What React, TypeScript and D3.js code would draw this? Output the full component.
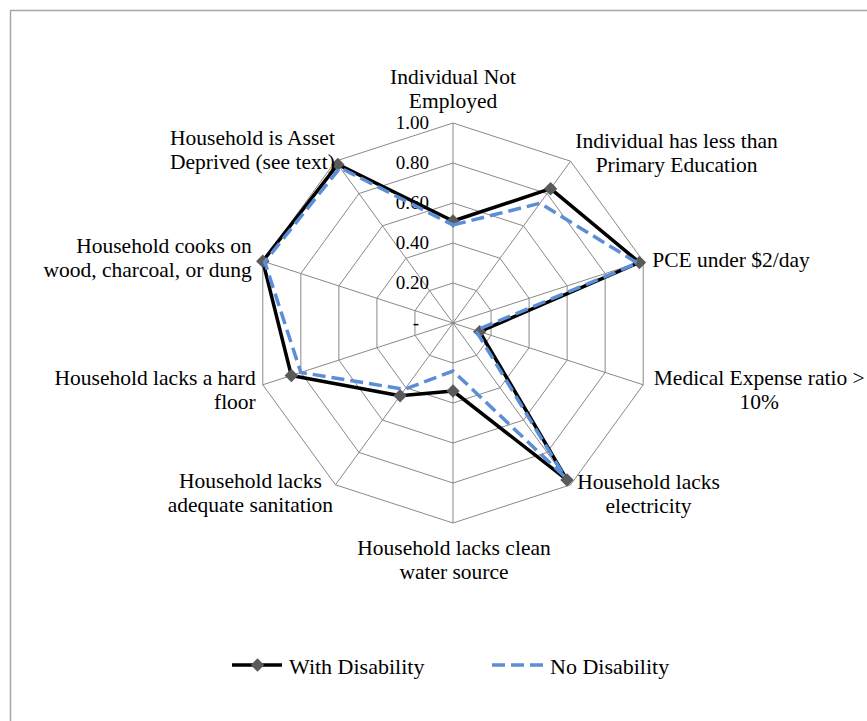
import React from 'react';
import * as d3 from 'd3';

// categories, clockwise from the top
const categories: string[][] = [
  ['Individual Not', 'Employed'],
  ['Individual has less than', 'Primary Education'],
  ['PCE under $2/day'],
  ['Medical Expense ratio >', '10%'],
  ['Household lacks', 'electricity'],
  ['Household lacks clean', 'water source'],
  ['Household lacks', 'adequate sanitation'],
  ['Household lacks a hard', 'floor'],
  ['Household cooks on', 'wood, charcoal, or dung'],
  ['Household is Asset', 'Deprived (see text)'],
];

const withDisability = [0.51, 0.83, 0.98, 0.14, 0.97, 0.34, 0.45, 0.85, 1.0, 0.98];
const noDisability = [0.49, 0.74, 0.97, 0.12, 0.95, 0.24, 0.41, 0.8, 0.99, 0.96];

const tickValues = [0, 0.2, 0.4, 0.6, 0.8, 1.0];
const tickLabels = ['-', '0.20', '0.40', '0.60', '0.80', '1.00'];

// label placement relative to each axis end (layout only)
const labelLayout: { dx: number; dy: number; anchor: string }[] = [
  { dx: 0, dy: -39, anchor: 'middle' },
  { dx: 106, dy: -13, anchor: 'middle' },
  { dx: 9, dy: 6, anchor: 'start' },
  { dx: 116, dy: 0, anchor: 'middle' },
  { dx: 78, dy: 4, anchor: 'middle' },
  { dx: 1, dy: 32, anchor: 'middle' },
  { dx: -85, dy: 3, anchor: 'middle' },
  { dx: -7, dy: 0, anchor: 'end' },
  { dx: -11, dy: -8, anchor: 'end' },
  { dx: -83, dy: -16, anchor: 'middle' },
];

const W = 867;
const H = 721;
const cx = 453;
const cy = 323;
const R = 200;
const FONT = '"Liberation Serif", "Times New Roman", serif';
const BLUE = '#5B8ED6';
const GRID = '#898989';

const App: React.FC = () => {
  const r = d3.scaleLinear().domain([0, 1]).range([0, R]);
  const n = categories.length;
  const angle = d3.scaleLinear().domain([0, n]).range([0, 2 * Math.PI]);
  const pt = (i: number, v: number): [number, number] => [
    cx + r(v) * Math.sin(angle(i)),
    cy - r(v) * Math.cos(angle(i)),
  ];

  const radial = (vals: number[]) =>
    d3
      .lineRadial<number>()
      .angle((_, i) => angle(i))
      .radius((d) => r(d))
      .curve(d3.curveLinearClosed)(vals) as string;

  const rings = tickValues.filter((t) => t > 0);
  const diamond = (x: number, y: number, s = 6.7) =>
    `M${x},${y - s}L${x + s},${y}L${x},${y + s}L${x - s},${y}Z`;

  return (
    <svg
      width={W}
      height={H}
      style={{ position: 'absolute', left: 0, top: 0, background: '#fff' }}
      fontFamily={FONT}
    >
      <rect x={10.5} y={10.5} width={W + 20} height={H + 20} fill="#fff" stroke="#a6a6a6" strokeWidth={1.5} />

      {/* grid */}
      <g transform={`translate(${cx},${cy})`}>
        {rings.map((t) => (
          <path
            key={t}
            d={radial(categories.map(() => t))}
            fill="none"
            stroke={GRID}
            strokeWidth={1}
          />
        ))}
      </g>
      {categories.map((_, i) => {
        const [x, y] = pt(i, 1);
        return <line key={i} x1={cx} y1={cy} x2={x} y2={y} stroke={GRID} strokeWidth={1} />;
      })}

      {/* tick labels */}
      {tickValues.map((t, i) => (
        <text
          key={t}
          x={t === 0 ? cx - 34 : cx - 24}
          y={cy - r(t) + 6.3}
          textAnchor="end"
          fontSize={19}
          fill="#000"
        >
          {tickLabels[i]}
        </text>
      ))}

      {/* series */}
      <g transform={`translate(${cx},${cy})`}>
        <path d={radial(withDisability)} fill="none" stroke="#000" strokeWidth={3.5} strokeLinejoin="round" />
      </g>
      {withDisability.map((v, i) => {
        const [x, y] = pt(i, v);
        return <path key={i} d={diamond(x, y)} fill="#5a5a5a" />;
      })}
      <g transform={`translate(${cx},${cy})`}>
        <path
          d={radial(noDisability)}
          fill="none"
          stroke={BLUE}
          strokeWidth={3.5}
          strokeDasharray="13 6"
        />
      </g>

      {/* category labels */}
      {categories.map((lines, i) => {
        const [x, y] = pt(i, 1);
        const l = labelLayout[i];
        return (
          <text key={i} x={x + l.dx} y={y + l.dy} textAnchor={l.anchor} fontSize={21.5} fill="#000">
            {lines.map((s, j) => (
              <tspan key={j} x={x + l.dx} dy={j === 0 ? 0 : 24}>
                {s}
              </tspan>
            ))}
          </text>
        );
      })}

      {/* legend */}
      <line x1={232} x2={282} y1={665} y2={665} stroke="#000" strokeWidth={3.5} />
      <path d={diamond(257.5, 665)} fill="#5a5a5a" />
      <text x={289} y={674} fontSize={22} fill="#000">With Disability</text>
      <line x1={492} x2={544} y1={665} y2={665} stroke={BLUE} strokeWidth={3.5} strokeDasharray="13 6" />
      <text x={550} y={674} fontSize={22} fill="#000">No Disability</text>
    </svg>
  );
};

export default App;
